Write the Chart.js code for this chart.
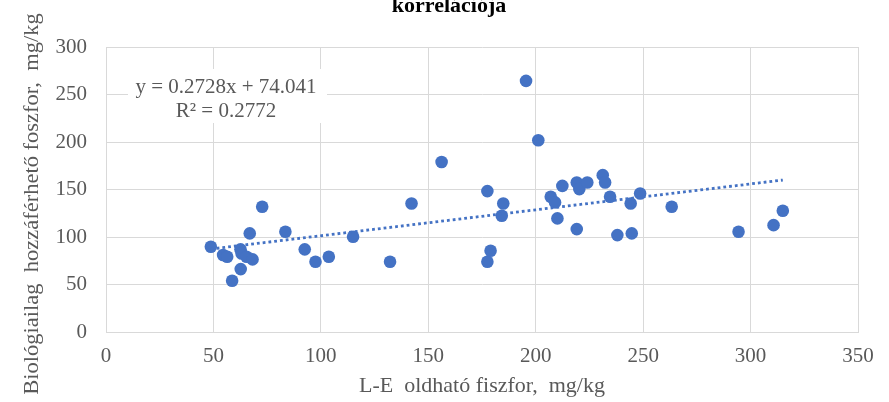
<!DOCTYPE html>
<html>
<head>
<meta charset="utf-8">
<script src="https://cdn.jsdelivr.net/npm/chart.js@4"></script>
<style>
  html, body { margin: 0; padding: 0; background: #ffffff; }
  #wrap { width: 889px; height: 402px; }
</style>
</head>
<body>
<div id="wrap"><canvas id="c" width="889" height="402"></canvas></div>
<script>
// ---- Data ----
const xValues = [48.8, 54.5, 56.4, 58.7, 62.6, 63.1, 62.7, 65.4, 66.9, 68.2,
                 72.7, 83.5, 92.5, 97.5, 103.7, 115.0, 132.2, 142.2, 156.2, 177.5,
                 177.5, 179.0, 184.2, 184.9, 195.5, 201.2, 207.0, 209.0, 210.1, 212.4,
                 219.1, 220.3, 219.1, 224.0, 231.2, 232.3, 234.6, 238.0, 244.2, 244.7,
                 248.6, 263.3, 294.4, 310.7, 315.0];
const yValues = [89.7, 81.0, 79.2, 54.0, 87.0, 82.7, 66.2, 79.2, 103.8, 76.4,
                 131.8, 105.5, 87.0, 73.9, 79.2, 100.2, 73.9, 135.3, 179.0, 148.3,
                 73.9, 85.5, 122.3, 135.3, 264.3, 201.9, 142.3, 136.4, 119.6, 153.8,
                 157.4, 150.4, 108.3, 157.4, 165.1, 157.4, 142.3, 102.0, 135.3, 103.8,
                 145.8, 131.8, 105.5, 112.5, 127.6];
// Linear trendline endpoints (from the displayed equation y = 0.2728x + 74.041)
const trendX = [48.8, 315.0];
const trendY = [87.35, 159.97];
const xTicks = [0, 50, 100, 150, 200, 250, 300, 350];
const yTicks = [0, 50, 100, 150, 200, 250, 300];

const titleText = "korrelációja";
const xTitle = "L-E  oldható fiszfor,  mg/kg";
const yTitle = "Biológiailag  hozzáférhető foszfor,  mg/kg";
const eqLine1 = "y = 0.2728x + 74.041";
const eqLine2 = "R² = 0.2772";

const points = xValues.map((x, i) => ({ x: x, y: yValues[i] }));
const trend = trendX.map((x, i) => ({ x: x, y: trendY[i] }));

const SERIF = "'Liberation Serif', 'Times New Roman', serif";
const TXT = '#595959';
const GRID = '#D9D9D9';
const BLUE = '#4472C4';

const textPlugin = {
  id: 'textPlugin',
  beforeDraw(chart) {
    const ctx = chart.ctx;
    ctx.save();
    ctx.fillStyle = '#ffffff';
    ctx.fillRect(0, 0, chart.width, chart.height);
    ctx.restore();
  },
  afterDraw(chart) {
    const ctx = chart.ctx;
    ctx.save();
    // Title (partially cut off at the top in the reference)
    ctx.fillStyle = '#000000';
    ctx.font = "bold 22px " + SERIF;
    ctx.textAlign = 'center';
    ctx.textBaseline = 'alphabetic';
    ctx.fillText(titleText, 449, 12);

    // X axis title
    ctx.fillStyle = TXT;
    ctx.font = "22px " + SERIF;
    ctx.fillText(xTitle, (chart.chartArea.left + chart.chartArea.right) / 2, 392);

    // Y axis title (rotated)
    ctx.save();
    ctx.translate(38, 204);
    ctx.scale(0.9, 1);
    ctx.rotate(-Math.PI / 2);
    ctx.font = "22.5px " + SERIF;
    ctx.textAlign = 'center';
    ctx.fillText(yTitle, 0, 0);
    ctx.restore();

    // Equation label with white background
    ctx.fillStyle = '#ffffff';
    ctx.fillRect(128, 69, 199, 54);
    ctx.fillStyle = TXT;
    ctx.font = "21px " + SERIF;
    ctx.textAlign = 'center';
    ctx.fillText(eqLine1, 226, 93);
    ctx.fillText(eqLine2, 226, 117);
    ctx.restore();
  }
};

new Chart(document.getElementById('c'), {
  type: 'scatter',
  data: {
    datasets: [
      {
        label: 'Adatok',
        data: points,
        backgroundColor: BLUE,
        borderColor: BLUE,
        pointRadius: 6.3,
        pointHoverRadius: 6.3,
        pointBorderWidth: 0,
        order: 2
      },
      {
        label: 'Trend',
        type: 'line',
        data: trend,
        borderColor: BLUE,
        borderWidth: 2.8,
        borderDash: [2.8, 3.0],
        pointRadius: 0,
        fill: false,
        showLine: true,
        order: 1
      }
    ]
  },
  options: {
    responsive: false,
    animation: false,
    devicePixelRatio: 1,
    layout: { padding: { left: 0, top: 47, right: 31, bottom: 0 } },
    plugins: {
      legend: { display: false },
      title: { display: false },
      tooltip: { enabled: false }
    },
    scales: {
      x: {
        type: 'linear',
        min: 0, max: 350,
        afterBuildTicks(scale) { scale.ticks = xTicks.map(v => ({ value: v })); },
        afterFit(scale) { scale.height = 70; },
        ticks: {
          color: TXT,
          font: { family: SERIF, size: 21 },
          padding: 12,
          maxRotation: 0
        },
        grid: { color: GRID, lineWidth: 1, drawTicks: false },
        border: { display: true, color: GRID, width: 1 }
      },
      y: {
        type: 'linear',
        min: 0, max: 300,
        afterBuildTicks(scale) { scale.ticks = yTicks.map(v => ({ value: v })); },
        afterFit(scale) { scale.width = 106; },
        ticks: {
          color: TXT,
          font: { family: SERIF, size: 21 },
          padding: 19
        },
        grid: { color: GRID, lineWidth: 1, drawTicks: false },
        border: { display: true, color: GRID, width: 1 }
      }
    }
  },
  plugins: [textPlugin]
});
</script>
</body>
</html>
